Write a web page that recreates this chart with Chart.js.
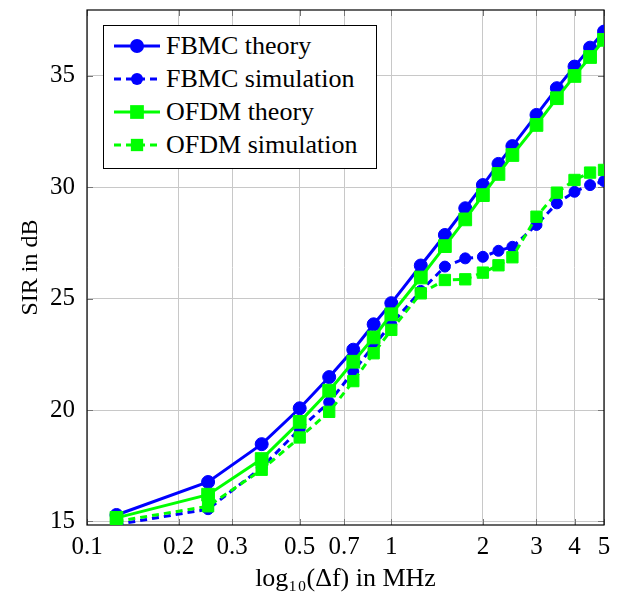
<!DOCTYPE html>
<html>
<head>
<meta charset="utf-8">
<title>SIR vs subcarrier spacing</title>
<script src="https://cdn.jsdelivr.net/npm/chart.js@4.4.0/dist/chart.umd.min.js"></script>
<style>
  html, body { margin: 0; padding: 0; background: #fff; }
  #wrap { position: relative; width: 618px; height: 594px; }
  #legend {
    position: absolute; left: 103px; top: 25px; width: 272px; height: 142px;
    border: 1px solid #000; background: #fff;
    font-family: "Liberation Serif", "DejaVu Serif", serif; font-size: 26px; color: #000;
  }
  .row { position: absolute; left: 10px; height: 30px; display: flex; align-items: center; white-space: nowrap; }
  .row svg { display: block; margin-right: 6px; }
</style>
</head>
<body>
<div id="wrap">
  <canvas id="chart" width="618" height="594"></canvas>
  <div id="legend"></div>
</div>
<script>
// Datos (x en MHz, SIR en dB)
const freqMHz = [0.125, 0.25, 0.375, 0.5, 0.625, 0.75, 0.875, 1, 1.25, 1.5, 1.75, 2, 2.25, 2.5, 3, 3.5, 4, 4.5, 5];
const fbmcTheory = [15.29, 16.77, 18.47, 20.08, 21.48, 22.71, 23.85, 24.80, 26.49, 27.86, 29.06, 30.10, 31.05, 31.85, 33.25, 34.45, 35.42, 36.27, 36.99];
const fbmcSim    = [14.86, 15.55, 17.42, 19.15, 20.35, 21.73, 22.90, 23.85, 25.35, 26.44, 26.81, 26.88, 27.15, 27.33, 28.31, 29.28, 29.80, 30.10, 30.28];
const ofdmTheory = [15.16, 16.20, 17.80, 19.47, 20.87, 22.17, 23.26, 24.30, 25.95, 27.36, 28.56, 29.65, 30.60, 31.45, 32.80, 34.00, 35.00, 35.85, 36.62];
const ofdmSim    = [15.00, 15.68, 17.32, 18.77, 19.92, 21.30, 22.55, 23.60, 25.24, 25.84, 25.87, 26.17, 26.50, 26.86, 28.68, 29.76, 30.33, 30.66, 30.78];

const seriesLabels = ['FBMC theory', 'FBMC simulation', 'OFDM theory', 'OFDM simulation'];
const xTickValues = [0.1, 0.2, 0.3, 0.5, 0.7, 1, 2, 3, 4, 5];
const yTickValues = [15, 20, 25, 30, 35];

const BLUE = '#0000ff';
const GREEN = '#00ff00';
const FONT = '"Liberation Serif", "DejaVu Serif", serif';

function toPoints(ys) {
  return freqMHz.map((x, i) => ({ x: x, y: ys[i] }));
}

function makeSet(label, ys, color, dashed, style, radius, order) {
  return {
    label: label,
    data: toPoints(ys),
    borderColor: color,
    backgroundColor: color,
    borderWidth: 3,
    borderDash: dashed ? [7, 5] : [],
    pointStyle: style,
    pointRadius: radius,
    pointBorderWidth: 1,
    pointBackgroundColor: color,
    pointBorderColor: color,
    tension: 0,
    fill: false,
    order: order
  };
}

const datasets = [
  makeSet(seriesLabels[0], fbmcTheory, BLUE, false, 'circle', 6.5, 4),
  makeSet(seriesLabels[1], fbmcSim, BLUE, true, 'circle', 5.5, 3),
  makeSet(seriesLabels[2], ofdmTheory, GREEN, false, 'rect', 9, 2),
  makeSet(seriesLabels[3], ofdmSim, GREEN, true, 'rect', 8, 1)
];

// Marco del eje y marcas internas (estilo pgfplots)
const framePlugin = {
  id: 'frame',
  beforeDatasetsDraw(chart) {
    const { ctx, chartArea: a, scales } = chart;
    ctx.save();
    ctx.strokeStyle = '#777';
    ctx.lineWidth = 1;
    ctx.beginPath();
    xTickValues.forEach(v => {
      const px = Math.round(scales.x.getPixelForValue(v)) + 0.5;
      ctx.moveTo(px, a.bottom); ctx.lineTo(px, a.bottom - 6);
      ctx.moveTo(px, a.top); ctx.lineTo(px, a.top + 6);
    });
    yTickValues.forEach(v => {
      const py = Math.round(scales.y.getPixelForValue(v)) + 0.5;
      ctx.moveTo(a.left, py); ctx.lineTo(a.left + 6, py);
      ctx.moveTo(a.right, py); ctx.lineTo(a.right - 6, py);
    });
    ctx.stroke();
    ctx.strokeStyle = '#000';
    ctx.lineWidth = 1.2;
    ctx.strokeRect(a.left, a.top, a.right - a.left, a.bottom - a.top);
    ctx.restore();
  }
};

const chart = new Chart(document.getElementById('chart').getContext('2d'), {
  type: 'line',
  data: { datasets: datasets },
  options: {
    responsive: false,
    animation: false,
    devicePixelRatio: 1,
    layout: { padding: { top: 10, right: 14, left: 0, bottom: 0 } },
    plugins: {
      legend: { display: false },
      tooltip: { enabled: false }
    },
    scales: {
      x: {
        type: 'logarithmic',
        min: 0.1,
        max: 5,
        afterBuildTicks: s => { s.ticks = xTickValues.map(v => ({ value: v })); },
        afterFit: s => { s.height = 69; s.paddingLeft = 0; s.paddingRight = 0; },
        ticks: {
          autoSkip: false,
          maxRotation: 0,
          padding: 7,
          color: '#000',
          font: { family: FONT, size: 25 },
          callback: v => String(v)
        },
        grid: { color: '#c8c8c8', lineWidth: 1, drawTicks: false },
        border: { display: false },
        title: {
          display: true,
          text: 'log₁₀(Δf) in MHz',
          color: '#000',
          font: { family: FONT, size: 26 },
          padding: { top: 0, bottom: -1 }
        }
      },
      y: {
        type: 'linear',
        min: 14.84,
        max: 37.96,
        afterBuildTicks: s => { s.ticks = yTickValues.map(v => ({ value: v })); },
        afterFit: s => { s.width = 87; s.paddingTop = 0; s.paddingBottom = 0; },
        ticks: {
          padding: 12,
          color: '#000',
          font: { family: FONT, size: 25 }
        },
        grid: { color: '#c8c8c8', lineWidth: 1, drawTicks: false },
        border: { display: false },
        title: {
          display: true,
          text: 'SIR in dB',
          color: '#000',
          font: { family: FONT, size: 24 },
          padding: { top: 16, bottom: 0 }
        }
      }
    }
  },
  plugins: [framePlugin]
});

// Leyenda dentro del área del gráfico
function sampleSvg(ds) {
  const c = ds.borderColor;
  const dash = ds.borderDash.length ? ` stroke-dasharray="${ds.borderDash.join(' ')}"` : '';
  let marker;
  if (ds.pointStyle === 'circle') {
    marker = `<circle cx="23" cy="10" r="${ds.pointRadius + 0.5}" fill="${c}"/>`;
  } else {
    const side = ds.pointRadius * Math.SQRT2 + 1;
    marker = `<rect x="${23 - side / 2}" y="${10 - side / 2}" width="${side}" height="${side}" fill="${c}"/>`;
  }
  return `<svg width="46" height="20"><line x1="0" y1="10" x2="46" y2="10" stroke="${c}" stroke-width="3"${dash}/>${marker}</svg>`;
}

const legendEl = document.getElementById('legend');
const rowTops = [5, 38, 71, 104];
datasets.forEach((ds, i) => {
  const row = document.createElement('div');
  row.className = 'row';
  row.style.top = rowTops[i] + 'px';
  row.innerHTML = sampleSvg(ds) + '<span>' + ds.label + '</span>';
  legendEl.appendChild(row);
});
</script>
</body>
</html>
